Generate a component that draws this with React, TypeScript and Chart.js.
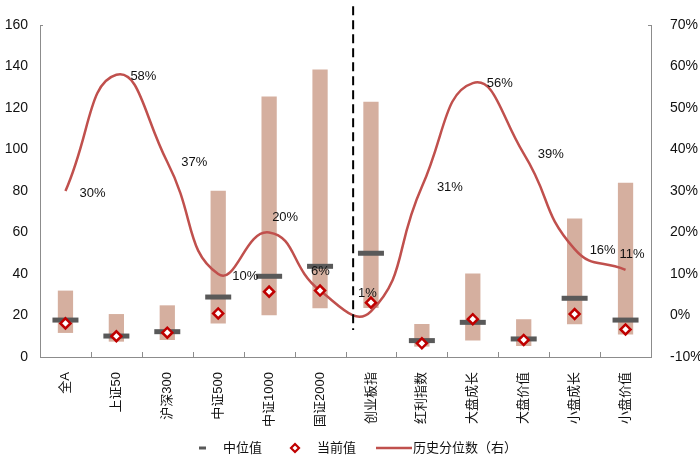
import React, { useEffect, useRef } from "react";
import { Chart, registerables } from "chart.js";

Chart.register(...registerables);

const categories = ["全A", "上证50", "沪深300", "中证500", "中证1000", "国证2000", "创业板指", "红利指数", "大盘成长", "大盘价值", "小盘成长", "小盘价值"];
const rangeLow = [11.6, 7.4, 8.2, 16.2, 20.1, 23.5, 23.6, 5.0, 7.9, 5.3, 15.8, 10.9];
const rangeHigh = [32, 20.7, 24.9, 80.1, 125.5, 138.5, 123, 15.9, 40.3, 18.2, 66.8, 84];
const medianValues = [17.8, 10.1, 12.2, 28.9, 38.9, 43.7, 50, 7.9, 16.7, 8.7, 28.3, 17.8];
const currentValues = [16.2, 10, 11.7, 21, 31.5, 32, 26.2, 6.6, 18.2, 8.2, 20.7, 13.3];
const percentiles = [30, 58, 37, 10, 20, 6, 1, 31, 56, 39, 16, 11];
const leftTicks = [0, 20, 40, 60, 80, 100, 120, 140, 160];
const rightTicks = [-10, 0, 10, 20, 30, 40, 50, 60, 70];

const legendNames = ["中位值", "当前值", "历史分位数（右）"];

const BAR_COLOR = "#D5AF9F";
const MEDIAN_COLOR = "#595959";
const CURRENT_COLOR = "#C00000";
const LINE_COLOR = "#C0504D";
const TEXT_COLOR = "#111111";
const AXIS_COLOR = "#8c8c8c";
const LATIN = "'Liberation Sans', Arial, 'Noto Sans CJK SC', sans-serif";
const CJK = "'Liberation Sans', 'Noto Sans CJK SC', sans-serif";

// label offsets relative to the line point (style only)
const labelOffsets: [number, number][] = [
  [14, 2], [14, 2], [14, 0], [14, 2], [3, -15], [-9, -19],
  [-13, -18], [15, 1], [14, 0], [14, 1], [15, 1], [-6, -15],
];

const decorPlugin = {
  id: "decor",
  afterDraw(chart: any) {
    const ctx = chart.ctx;
    const xs = chart.scales.x;
    const ys = chart.scales.y;
    const area = chart.chartArea;
    ctx.save();

    // category boundary ticks on x axis (pointing up)
    const n = categories.length;
    const step = (area.right - area.left) / n;
    ctx.strokeStyle = AXIS_COLOR;
    ctx.lineWidth = 1;
    for (let i = 1; i < n; i++) {
      const x = Math.round(area.left + i * step) + 0.5;
      ctx.beginPath();
      ctx.moveTo(x, area.bottom);
      ctx.lineTo(x, area.bottom - 5);
      ctx.stroke();
    }
    // small caps at the top of both value axes
    ctx.beginPath();
    ctx.moveTo(area.left, area.top + 0.5);
    ctx.lineTo(area.left + 3, area.top + 0.5);
    ctx.moveTo(area.right, area.top + 0.5);
    ctx.lineTo(area.right - 3, area.top + 0.5);
    ctx.stroke();

    // dashed separator between 国证2000 and 创业板指
    const sx = xs.getPixelForValue(5.65);
    ctx.strokeStyle = "#000";
    ctx.lineWidth = 2;
    ctx.setLineDash([9, 5]);
    ctx.beginPath();
    ctx.moveTo(sx, ys.getPixelForValue(169));
    ctx.lineTo(sx, ys.getPixelForValue(13));
    ctx.stroke();
    ctx.setLineDash([]);

    // percentile labels
    const meta = chart.getDatasetMeta(1);
    ctx.fillStyle = TEXT_COLOR;
    ctx.font = `13px ${LATIN}`;
    ctx.textAlign = "left";
    ctx.textBaseline = "middle";
    meta.data.forEach((pt: any, i: number) => {
      const [dx, dy] = labelOffsets[i];
      ctx.fillText(`${percentiles[i]}%`, pt.x + dx, pt.y + dy);
    });

    // legend
    const ly = 448;
    ctx.font = `13px ${CJK}`;
    ctx.fillStyle = TEXT_COLOR;
    // median
    ctx.strokeStyle = MEDIAN_COLOR;
    ctx.lineWidth = 3;
    ctx.beginPath();
    ctx.moveTo(199, ly);
    ctx.lineTo(206, ly);
    ctx.stroke();
    ctx.fillText(legendNames[0], 223, ly);
    // current
    ctx.strokeStyle = CURRENT_COLOR;
    ctx.fillStyle = "#fff";
    ctx.lineWidth = 2.2;
    ctx.beginPath();
    ctx.moveTo(295, ly - 4);
    ctx.lineTo(299, ly);
    ctx.lineTo(295, ly + 4);
    ctx.lineTo(291, ly);
    ctx.closePath();
    ctx.fill();
    ctx.stroke();
    ctx.fillStyle = TEXT_COLOR;
    ctx.fillText(legendNames[1], 317, ly);
    // line
    ctx.strokeStyle = LINE_COLOR;
    ctx.lineWidth = 2.5;
    ctx.beginPath();
    ctx.moveTo(376, ly);
    ctx.lineTo(412, ly);
    ctx.stroke();
    ctx.fillText(legendNames[2], 413, ly);

    ctx.restore();
  },
};

export default function App() {
  const ref = useRef<HTMLCanvasElement | null>(null);

  useEffect(() => {
    if (!ref.current) return;
    const chart = new Chart(ref.current, {
      type: "bar",
      data: {
        labels: categories,
        datasets: [
          {
            type: "line",
            label: "current",
            data: currentValues,
            yAxisID: "y",
            showLine: false,
            pointStyle: "rectRot",
            pointRadius: 5,
            pointBorderWidth: 2.5,
            pointBorderColor: CURRENT_COLOR,
            pointBackgroundColor: "#ffffff",
            order: 1,
          } as any,
          {
            type: "line",
            label: "percentile",
            data: percentiles,
            yAxisID: "y1",
            borderColor: LINE_COLOR,
            borderWidth: 2.5,
            pointRadius: 0,
            tension: 0.5,
            fill: false,
            order: 3,
          } as any,
          {
            type: "line",
            label: "median",
            data: medianValues,
            yAxisID: "y",
            showLine: false,
            pointStyle: "line",
            pointRadius: 13,
            pointBorderWidth: 5,
            pointBorderColor: MEDIAN_COLOR,
            order: 2,
          } as any,
          {
            type: "bar",
            label: "range",
            data: rangeLow.map((lo, i) => [lo, rangeHigh[i]]),
            yAxisID: "y",
            backgroundColor: BAR_COLOR,
            borderWidth: 0,
            barPercentage: 0.3,
            categoryPercentage: 1,
            order: 4,
          } as any,
        ],
      },
      options: {
        responsive: false,
        animation: false,
        devicePixelRatio: 1,
        events: [],
        layout: { padding: { top: 25, left: 0, right: 0, bottom: 0 } },
        plugins: {
          legend: { display: false },
          tooltip: { enabled: false },
        },
        scales: {
          x: {
            offset: true,
            grid: { display: false },
            border: { display: true, color: AXIS_COLOR, width: 1 },
            ticks: {
              color: TEXT_COLOR,
              font: { size: 13, family: CJK },
              maxRotation: 90,
              minRotation: 90,
              padding: 7,
              autoSkip: false,
            },
            afterFit: (s: any) => {
              s.height = 105;
            },
          },
          y: {
            position: "left",
            min: 0,
            max: 160,
            grid: { display: false },
            border: { display: true, color: AXIS_COLOR, width: 1 },
            afterBuildTicks: (s: any) => {
              s.ticks = leftTicks.map((v) => ({ value: v }));
            },
            ticks: {
              color: TEXT_COLOR,
              font: { size: 14, family: LATIN },
              padding: 4,
            },
            afterFit: (s: any) => {
              s.width = 40;
            },
          },
          y1: {
            position: "right",
            min: -10,
            max: 70,
            grid: { display: false },
            border: { display: true, color: AXIS_COLOR, width: 1 },
            afterBuildTicks: (s: any) => {
              s.ticks = rightTicks.map((v) => ({ value: v }));
            },
            ticks: {
              color: TEXT_COLOR,
              font: { size: 14, family: LATIN },
              padding: 11,
              callback: (v: any) => `${v}%`,
            },
            afterFit: (s: any) => {
              s.width = 49;
            },
          },
        },
      },
      plugins: [decorPlugin],
    });
    return () => chart.destroy();
  }, []);

  return (
    <div style={{ position: "fixed", left: 0, top: 0, width: 700, height: 462, background: "#fff" }}>
      <canvas ref={ref} width={700} height={462} />
    </div>
  );
}
